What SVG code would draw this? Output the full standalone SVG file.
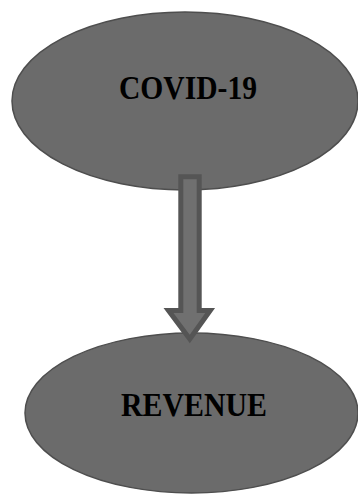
<svg xmlns="http://www.w3.org/2000/svg" width="358" height="495" viewBox="0 0 358 495">
<style>
.node{fill:#6b6b6b;stroke:#4e4e4e;stroke-width:1.5}
.lbl{font-family:"Liberation Serif","Times New Roman",serif;font-weight:bold;font-size:33px;fill:#000;text-anchor:middle}
.arrow{fill:#707070;stroke:#555;stroke-width:5;stroke-linejoin:miter}
</style>
<rect width="358" height="495" fill="#fff"/>
<g id="covid">
<ellipse class="node" cx="185" cy="101" rx="173" ry="89"/>
<text class="lbl" x="188" y="99" textLength="138" lengthAdjust="spacingAndGlyphs">COVID-19</text>
</g>
<g id="revenue">
<ellipse class="node" cx="191.5" cy="413" rx="166.5" ry="80"/>
<text class="lbl" x="194" y="416" textLength="146" lengthAdjust="spacingAndGlyphs">REVENUE</text>
</g>
<g id="connectors">
<path class="arrow" d="M180.8,176.8 H199.2 V310.5 H210.2 L189.8,339 L168.5,310.5 H180.8 Z"/>
</g>
</svg>
